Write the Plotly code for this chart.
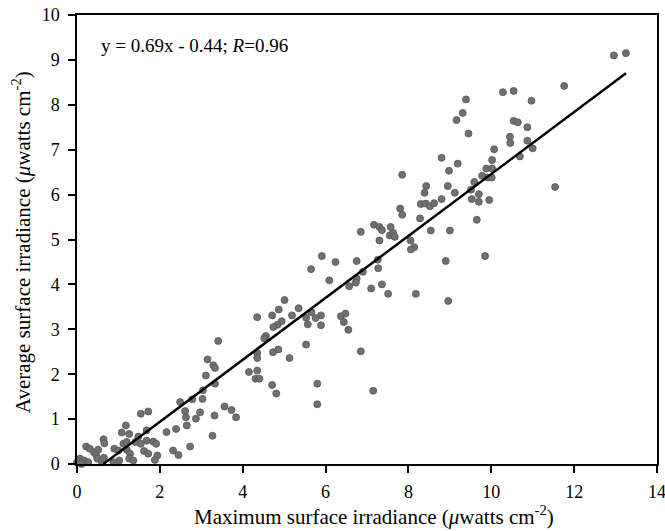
import plotly.graph_objects as go

# Scatter data: maximum surface irradiance (x) vs average surface irradiance (y)
x_max = [
    11.76, 10.28, 10.54, 10.97, 9.39, 9.31, 9.16, 9.45, 10.54, 10.64, 10.87, 10.45, 10.46, 10.87,
    11.00, 10.69, 10.07, 10.02, 8.80, 9.19, 8.98, 9.88, 10.02, 9.78, 9.91, 10.01, 9.59, 8.95,
    9.51, 9.12, 8.80, 9.53, 9.70, 9.70, 9.95, 11.54, 9.65, 9.00, 12.96, 13.25, 9.85,
    7.85, 8.43, 8.39, 8.30, 8.42, 8.52, 8.62, 8.28, 8.54, 7.80, 7.85, 7.17, 7.30, 7.36, 7.57,
    7.55, 7.63, 7.67, 6.85, 7.30, 8.05, 8.14, 8.06, 8.90, 8.96, 8.18, 5.91, 6.24, 6.75, 7.26,
    7.27, 6.90, 6.75, 6.73, 6.57, 6.09, 7.10, 7.36, 7.51, 5.89, 5.89, 6.37, 6.48, 6.44, 6.55,
    6.85, 7.15,
    5.65, 5.01, 4.35, 4.71, 4.87, 4.94, 4.84, 4.74, 5.19, 5.35, 5.66, 5.53, 5.57, 5.76, 4.56,
    4.52, 3.41, 5.53, 4.35, 4.35, 4.73, 4.86, 5.13, 4.15, 4.35, 4.31, 4.40, 4.71, 4.81, 5.80,
    5.80, 3.15, 3.29, 3.33, 3.11, 3.33, 3.04, 3.03, 3.56, 3.73, 3.84, 3.32, 3.27,
    2.49, 2.61, 2.78, 2.97, 2.63, 2.87, 2.65, 1.54, 1.72, 1.18, 1.08, 1.26, 1.68, 1.48, 1.41,
    1.68, 1.84, 1.91, 1.54, 1.62, 1.72, 1.94, 1.88, 2.16, 2.39, 2.32, 2.45, 2.73, 0.64, 0.66,
    0.90, 1.00, 1.12, 1.20, 1.20, 1.28, 1.02, 1.26, 1.36, 0.88, 0.22, 0.31, 0.41, 0.46, 0.51,
    0.49, 0.07, 0.17, 0.00, 0.27, 0.60, 0.11, 0.65,
]
y_avg = [
    8.42, 8.28, 8.31, 8.09, 8.12, 7.82, 7.66, 7.36, 7.64, 7.61, 7.50, 7.29, 7.15, 7.20,
    7.03, 6.85, 7.01, 6.77, 6.82, 6.69, 6.53, 6.58, 6.58, 6.42, 6.38, 6.38, 6.28, 6.19,
    6.11, 6.04, 5.90, 5.90, 6.01, 5.84, 5.88, 6.17, 5.44, 5.20, 9.10, 9.15, 4.63,
    6.44, 6.19, 6.04, 5.79, 5.80, 5.74, 5.81, 5.47, 5.20, 5.69, 5.55, 5.33, 5.28, 5.21, 5.28,
    5.09, 5.15, 5.06, 5.17, 4.98, 4.98, 4.83, 4.78, 4.52, 3.63, 3.79, 4.63, 4.50, 4.52, 4.55,
    4.36, 4.28, 4.13, 4.04, 3.96, 4.09, 3.91, 4.00, 3.79, 3.31, 3.09, 3.29, 3.35, 3.16, 2.99,
    2.51, 1.63,
    4.34, 3.65, 3.27, 3.31, 3.44, 3.18, 3.10, 3.05, 3.31, 3.47, 3.38, 3.26, 3.11, 3.25, 2.85,
    2.80, 2.74, 2.66, 2.47, 2.36, 2.49, 2.55, 2.36, 2.05, 2.08, 1.90, 1.90, 1.76, 1.57, 1.79,
    1.33, 2.33, 2.20, 2.14, 1.97, 1.79, 1.64, 1.45, 1.28, 1.20, 1.04, 1.08, 0.63,
    1.38, 1.18, 1.44, 1.15, 1.04, 1.01, 0.86, 1.12, 1.17, 0.86, 0.70, 0.67, 0.75, 0.61, 0.49,
    0.52, 0.50, 0.45, 0.45, 0.29, 0.23, 0.19, 0.09, 0.71, 0.78, 0.30, 0.20, 0.39, 0.55, 0.46,
    0.34, 0.30, 0.45, 0.49, 0.32, 0.23, 0.08, 0.12, 0.08, 0.04, 0.39, 0.34, 0.26, 0.21, 0.32,
    0.12, 0.12, 0.08, 0.04, 0.04, 0.04, 0.00, 0.14,
]

# Regression line y = 0.69x - 0.44 (endpoints as drawn)
fit_x = [0.64, 13.25]
slope, intercept = 0.69, -0.44
fit_y = [slope * v + intercept for v in fit_x]

x_ticks = [0, 2, 4, 6, 8, 10, 12, 14]
y_ticks = [0, 1, 2, 3, 4, 5, 6, 7, 8, 9, 10]

FONT = "Liberation Serif"

fig = go.Figure()
fig.add_trace(go.Scatter(
    x=x_max, y=y_avg, mode="markers",
    marker=dict(size=7, color="#707070", line=dict(color="#555555", width=0.8)),
    cliponaxis=False, showlegend=False,
))
fig.add_trace(go.Scatter(
    x=fit_x, y=fit_y, mode="lines",
    line=dict(color="black", width=2.5),
    showlegend=False,
))

axis_common = dict(
    showline=True, linecolor="black", linewidth=1.5, mirror=True,
    ticks="outside", ticklen=7, tickwidth=1.5, tickcolor="black",
    showgrid=False, zeroline=False, automargin=False,
    ticklabeloverflow="allow",
    tickfont=dict(family=FONT, size=18, color="black"),
)

fig.update_layout(
    width=665, height=531,
    margin=dict(l=77, r=8, t=15, b=67),
    paper_bgcolor="white", plot_bgcolor="white",
    font=dict(family=FONT, color="black"),
    xaxis=dict(range=[0, 14], tickvals=x_ticks, ticklabelstandoff=4, **axis_common),
    yaxis=dict(range=[0, 10], tickvals=y_ticks, ticklabelstandoff=5, **axis_common),
    annotations=[
        dict(
            x=0.038, y=0.931, xref="paper", yref="paper",
            xanchor="left", yanchor="middle", showarrow=False,
            text="y = 0.69x - 0.44; <i>R</i>=0.96",
            font=dict(family=FONT, size=19, color="black"),
        ),
        dict(
            x=0.512, y=-0.1158, xref="paper", yref="paper",
            xanchor="center", yanchor="middle", showarrow=False,
            text="Maximum surface irradiance (<i>μ</i>watts cm<sup>-2</sup>)",
            font=dict(family=FONT, size=21, color="black"),
        ),
        dict(
            x=-0.0966, y=0.494, xref="paper", yref="paper",
            xanchor="center", yanchor="middle", showarrow=False, textangle=-90,
            text="Average surface irradiance (<i>μ</i>watts cm<sup>-2</sup>)",
            font=dict(family=FONT, size=21, color="black"),
        ),
    ],
)

# Remove the default page margin so the 665x531 figure fills the window exactly
fig.write_html(
    "out.html",
    config={"displayModeBar": False},
    post_script="document.body.style.margin='0px';",
)
